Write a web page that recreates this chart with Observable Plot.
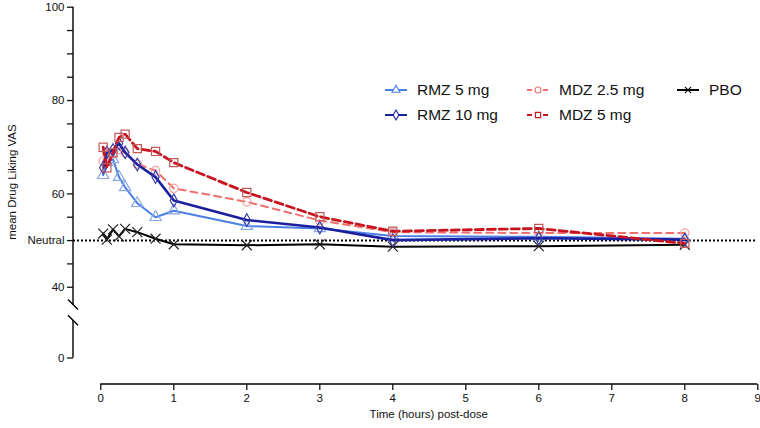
<!DOCTYPE html>
<html><head><meta charset="utf-8">
<script src="https://cdn.jsdelivr.net/npm/d3@7"></script>
<script src="https://cdn.jsdelivr.net/npm/@observablehq/plot@0.6"></script>
<style>
body{margin:0;background:#fff;font-family:"Liberation Sans",Arial,Helvetica,sans-serif;}
#wrap{position:relative;width:760px;height:428px;}
.leg{position:absolute;display:flex;align-items:center;font-size:15.5px;color:#111;white-space:nowrap;height:20px;transform:translateY(-50%);}
.leg svg{margin-right:10px;overflow:visible;}
</style></head><body><div id="wrap"></div>
<script>
// ---- data ----
const times  = [0.033, 0.083, 0.167, 0.25, 0.333, 0.5, 0.75, 1, 2, 3, 4, 6, 8];
const rmz5   = [64.0, 66.8, 67.4, 63.6, 61.4, 58.0, 55.0, 56.4, 53.1, 52.6, 51.0, 50.8, 50.4];
const rmz10  = [65.6, 68.9, 69.4, 70.8, 68.9, 66.3, 63.6, 58.6, 54.4, 52.8, 50.1, 50.5, 50.2];
const mdz25  = [67.0, 68.8, 68.6, 69.5, 68.8, 66.4, 65.0, 61.2, 58.3, 54.3, 51.8, 51.6, 51.6];
const mdz5   = [70.0, 65.6, 68.8, 72.1, 72.8, 69.7, 69.1, 66.7, 60.3, 55.1, 52.0, 52.6, 49.4];
const pbo    = [51.5, 50.2, 52.4, 50.9, 52.5, 51.8, 50.4, 49.2, 49.0, 49.2, 48.7, 48.8, 49.1];

const seriesNames = ["RMZ 5 mg", "RMZ 10 mg", "MDZ 2.5 mg", "MDZ 5 mg", "PBO"];
const seriesValues = [rmz5, rmz10, mdz25, mdz5, pbo];

const xTicks = [0, 1, 2, 3, 4, 5, 6, 7, 8, 9];
const yMajorTicks = [0, 40, 50, 60, 80, 100];
const yMinorTicks = [45, 55, 65, 70, 75, 85, 90, 95];
const neutralValue = 50;
const xTitle = "Time (hours) post-dose";
const yTitle = "mean Drug Liking VAS";

// broken y axis: values below 40 are compressed
const yBreakValue = 40;
const yLowCompression = 0.379;
const yT = v => v >= yBreakValue ? v : yBreakValue - (yBreakValue - v) * yLowCompression;
const yInv = t => t >= yBreakValue ? t : yBreakValue - (yBreakValue - t) / yLowCompression;

// ---- styles ----
const styles = {
  "RMZ 5 mg":   {line: "#4a7fe6", mark: "#8aa6e4", dash: null,  sw: 2,   symbol: "triangle", r: 4.2},
  "RMZ 10 mg":  {line: "#1a1f9e", mark: "#3a3fa8", dash: null,  sw: 2.6, symbol: "diamond",  r: 3.8},
  "MDZ 2.5 mg": {line: "#ef6f6f", mark: "#f2a3a3", dash: "7,5", sw: 2,   symbol: "circle",   r: 4.2},
  "MDZ 5 mg":   {line: "#c8141e", mark: "#c05a5a", dash: "8,4", sw: 2.8, symbol: "square",   r: 4.6},
  "PBO":        {line: "#000000", mark: "#222222", dash: null,  sw: 2,   symbol: "times",    r: 4.6}
};

const table = seriesNames.flatMap((name, i) =>
  times.map((t, j) => ({series: name, time: t, value: seriesValues[i][j]})));

// y axis break segments (data units)
const yLowerSegment = [0, 21];
const yUpperSegment = [30, 100];

function frameMark(index, scales, values, dims) {
  const {x, y} = scales;
  const Y = v => y(yT(v));
  const g = d3.create("svg:g");
  const L = dims.marginLeft, B = dims.height - dims.marginBottom;
  for (const [a, b] of [yLowerSegment, yUpperSegment]) {
    g.append("line").attr("x1", L).attr("x2", L).attr("y1", Y(a)).attr("y2", Y(b))
      .attr("stroke", "#000").attr("stroke-width", 1.4);
  }
  for (const v of [yUpperSegment[0], yLowerSegment[1]]) {
    g.append("line").attr("x1", L - 5).attr("x2", L + 5).attr("y1", Y(v) - 5).attr("y2", Y(v) + 5)
      .attr("stroke", "#000").attr("stroke-width", 1.4);
  }
  const xd = x.domain();
  g.append("line").attr("x1", x(xd[0])).attr("x2", x(xd[xd.length - 1])).attr("y1", B).attr("y2", B)
    .attr("stroke", "#000").attr("stroke-width", 1.4);
  g.append("text").attr("x", (x(xd[0]) + x(xd[xd.length - 1])) / 2).attr("y", B + 34)
    .attr("text-anchor", "middle").attr("font-size", 11.5).attr("fill", "#111").text(xTitle);
  const yc = (Y(0) + Y(100)) / 2;
  g.append("text").attr("transform", `translate(16,${yc}) rotate(-90)`)
    .attr("text-anchor", "middle").attr("font-size", 11.5).attr("fill", "#111").text(yTitle);
  return g.node();
}

const order = ["PBO", "RMZ 5 mg", "MDZ 2.5 mg", "RMZ 10 mg", "MDZ 5 mg"];
const seriesMarks = order.flatMap(name => {
  const s = styles[name];
  const data = table.filter(d => d.series === name);
  return [
    Plot.line(data, {x: "time", y: d => yT(d.value), stroke: s.line, strokeWidth: s.sw, strokeDasharray: s.dash, strokeLinejoin: "round"}),
    Plot.dot(data, {x: "time", y: d => yT(d.value), symbol: s.symbol, r: s.r, stroke: s.mark, strokeWidth: 1.2, fill: "none"})
  ];
});

const chart = Plot.plot({
  width: 760,
  height: 428,
  marginLeft: 73,
  marginRight: 3,
  marginTop: 6,
  marginBottom: 44,
  style: {fontFamily: '"Liberation Sans", Arial, Helvetica, sans-serif', fontSize: "11.5px", color: "#111", background: "#fff", overflow: "visible"},
  x: {domain: [0, 9], range: [100.3, 757.3]},
  y: {domain: [yT(0), 100], range: [357.5, 6.7]},
  marks: [
    Plot.ruleY([yT(neutralValue)], {stroke: "#000", strokeWidth: 2, strokeDasharray: "2,2"}),
    frameMark,
    Plot.axisY({ticks: yMajorTicks.map(yT), tickSize: 6, tickPadding: 3, strokeWidth: 1.3, label: null,
      tickFormat: t => { const v = Math.round(yInv(t)); return v === neutralValue ? "Neutral" : String(v); }, fontSize: 11.5}),
    Plot.axisY({ticks: yMinorTicks.map(yT), tickSize: 6, strokeWidth: 1.3, label: null, tickFormat: () => ""}),
    Plot.axisX({ticks: xTicks, tickSize: 6, tickPadding: 3, strokeWidth: 1.3, label: null, fontSize: 11.5}),
    ...seriesMarks
  ]
});
const wrap = document.getElementById("wrap");
wrap.appendChild(chart);

// ---- legend ----
const legendCols = [385, 527, 677];
const legendRows = [90, 115];
const legendLayout = [["RMZ 5 mg", 0, 0], ["RMZ 10 mg", 0, 1], ["MDZ 2.5 mg", 1, 0], ["MDZ 5 mg", 1, 1], ["PBO", 2, 0]];
const symbolTypes = {triangle: d3.symbolTriangle, diamond: d3.symbolDiamond, circle: d3.symbolCircle, square: d3.symbolSquare, times: d3.symbolTimes};
for (const [name, c, r] of legendLayout) {
  const s = styles[name];
  const div = document.createElement("div");
  div.className = "leg";
  div.style.left = legendCols[c] + "px";
  div.style.top = legendRows[r] + "px";
  const svg = d3.create("svg").attr("width", 22).attr("height", 14);
  svg.append("line").attr("x1", 0).attr("x2", 22).attr("y1", 7).attr("y2", 7)
    .attr("stroke", s.line).attr("stroke-width", Math.min(s.sw, 2)).attr("stroke-dasharray", s.dash ? "5,3" : null);
  svg.append("path").attr("transform", "translate(11,7)")
    .attr("d", d3.symbol(symbolTypes[s.symbol], 28)())
    .attr("fill", "#fff").attr("stroke", s.line).attr("stroke-width", 1.1);
  div.appendChild(svg.node());
  const span = document.createElement("span");
  span.textContent = name;
  div.appendChild(span);
  wrap.appendChild(div);
}
</script>
</body></html>
